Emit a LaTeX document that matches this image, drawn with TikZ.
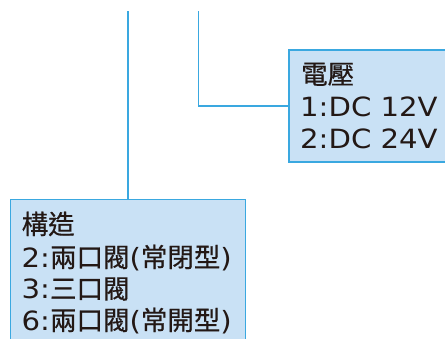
\documentclass[tikz,border=0pt]{standalone}
\usepackage{fontspec}
\setmainfont[FakeBold=0.6]{Noto Sans CJK TC}
\newfontfamily\lat[FakeStretch=1.1]{DejaVu Sans}
\definecolor{boxfill}{HTML}{C9E1F5}
\definecolor{lineblue}{HTML}{3AA8E0}
\definecolor{ink}{HTML}{231815}
\begin{document}
\begin{tikzpicture}[x=1pt,y=-1pt,
  box/.style={draw=lineblue, fill=boxfill, line width=1.5pt, inner sep=0pt, anchor=north west},
  txt/.style={anchor=base west, inner sep=0pt, font=\fontsize{26.5}{31.5}\selectfont, text=ink},
  conn/.style={draw=lineblue, line width=1.6pt}]
\useasboundingbox (0,0) rectangle (445,338);
\clip (0,0) rectangle (445,338);
\node[box, minimum width=235pt, minimum height=160pt] (b1) at (9.5,198.7) {};
\node[box, minimum width=170pt, minimum height=112pt] (b2) at (288,49.3) {};
\node[txt] (l1) at (21.5,234) {構造};
\node[txt] (l2) at (21.5,267) {{\lat 2:}兩口閥{\lat (}常閉型{\lat )}};
\node[txt] (l3) at (21.5,298.5) {{\lat 3:}三口閥};
\node[txt] (l4) at (21.5,330) {{\lat 6:}兩口閥{\lat (}常開型{\lat )}};
\node[txt] (r1) at (301,84) {電壓};
\node[txt] (r2) at (300,116.7) {\lat 1:DC 12V};
\node[txt] (r3) at (300,148) {\lat 2:DC 24V};
\coordinate (s1) at (127.7,11);
\coordinate (s2) at (198.3,11);
\draw[conn] (s1) -- (s1 |- b1.north);
\draw[conn] (s2) |- (b2.west);
\end{tikzpicture}
\end{document}
